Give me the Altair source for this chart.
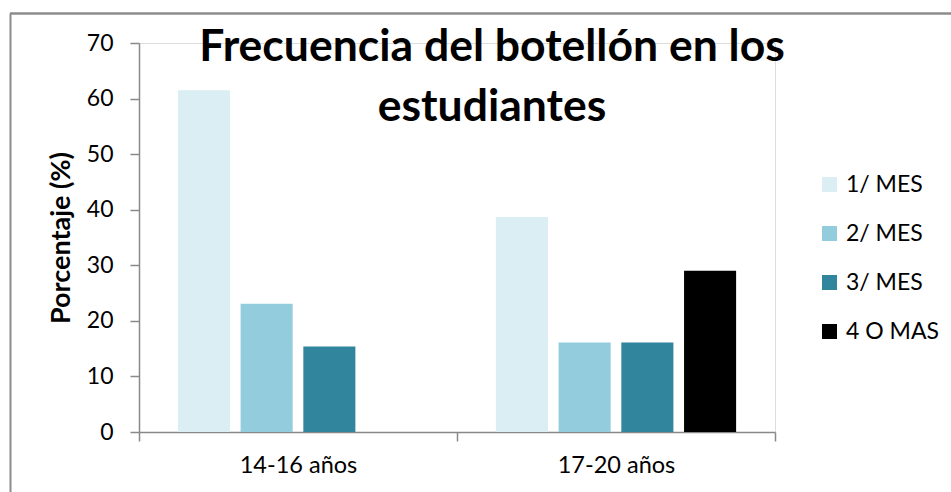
import altair as alt
import pandas as pd

groups = ["14-16 años", "17-20 años"]
series = ["1/ MES", "2/ MES", "3/ MES", "4 O MAS"]
values_14_16 = [61.5, 23.1, 15.4, 0.0]
values_17_20 = [38.7, 16.1, 16.1, 29.0]
colors = ["#DAEEF3", "#93CDDD", "#31859C", "#000000"]
y_ticks = [0, 10, 20, 30, 40, 50, 60, 70]

rows = []
for g, vals in zip(groups, [values_14_16, values_17_20]):
    for s, v in zip(series, vals):
        rows.append({"grupo": g, "serie": s, "valor": v})
df = pd.DataFrame(rows)

FONT = "Lato"
GRAY = "#898989"

bars = alt.Chart(df).mark_bar().encode(
    x=alt.X("grupo:N", sort=groups,
            scale=alt.Scale(paddingInner=0, paddingOuter=0),
            axis=alt.Axis(title=None, labelAngle=0, labelFontSize=23.5, labelFont=FONT,
                          labelColor="#000000", tickBand="extent", tickSize=9,
                          labelPadding=12, domainColor=GRAY, tickColor=GRAY,
                          domainWidth=1.5, tickWidth=1.5)),
    xOffset=alt.XOffset("serie:N", sort=series,
                        scale=alt.Scale(paddingInner=0.17, paddingOuter=0.62)),
    y=alt.Y("valor:Q", scale=alt.Scale(domain=[0, 70], nice=False),
            axis=alt.Axis(title="Porcentaje (%)", values=y_ticks, grid=False,
                          labelFontSize=23, labelFont=FONT, labelColor="#000000",
                          tickSize=9, labelPadding=17, domainColor=GRAY, tickColor=GRAY,
                          domainWidth=1.5, tickWidth=1.5,
                          titleFont=FONT, titleFontSize=27, titleFontWeight="bold",
                          titleColor="#000000", titlePadding=11)),
    color=alt.Color("serie:N", sort=series,
                    scale=alt.Scale(domain=series, range=colors),
                    legend=alt.Legend(title=None, orient="none", legendX=679, legendY=130,
                                      symbolType="square", symbolSize=225,
                                      symbolStrokeWidth=0, labelFont=FONT,
                                      labelFontSize=23, labelColor="#000000",
                                      rowPadding=25, labelOffset=5, padding=0)),
)

frame_df = pd.DataFrame({"k": [0]})
frame_top = alt.Chart(frame_df).mark_rule(color="#8c8c8c", strokeWidth=2.5).encode(
    x=alt.value(-129), x2=alt.value(812), y=alt.value(-29.5))
frame_left = alt.Chart(frame_df).mark_rule(color="#8c8c8c", strokeWidth=2).encode(
    x=alt.value(-128.5), y=alt.value(-29.5), y2=alt.value(449))

chart = alt.layer(frame_top, frame_left, bars).properties(
    width=636, height=389,
    autosize=alt.AutoSizeParams(type="none"),
    padding={"left": 139, "top": 43, "right": 176, "bottom": 60},
    title=alt.TitleParams(text=["Frecuencia del botellón en los", "estudiantes"],
                          font=FONT, fontSize=44.5, fontWeight="bold", color="#000000",
                          anchor="middle", baseline="alphabetic", offset=0,
                          dx=35, dy=153, lineHeight=60),
).configure_view(stroke=None).configure(background="#ffffff")

chart.save("out.html", embed_options={"renderer": "svg", "actions": False})
